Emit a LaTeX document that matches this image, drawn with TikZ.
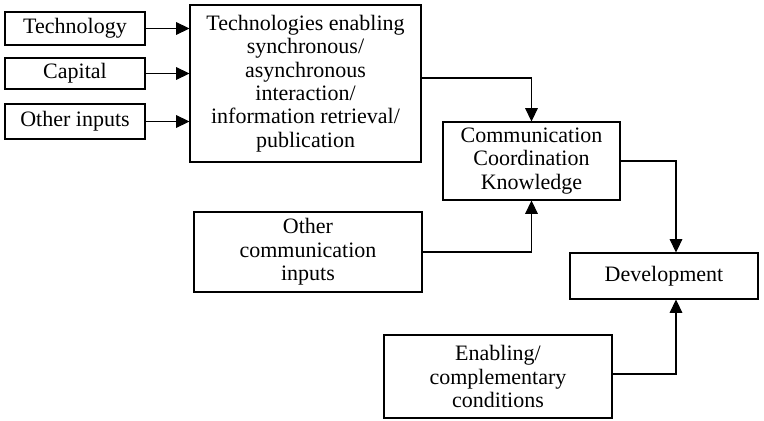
\documentclass[tikz,border=0pt]{standalone}
\usepackage{fontspec}
\setmainfont{Liberation Serif}
\usetikzlibrary{arrows.meta,calc}
\newlength\pxu
\setlength\pxu{0.75pt}
\begin{document}
\begin{tikzpicture}[x=0.75pt,y=-0.75pt,
  box/.style={draw,line width=0.8pt,align=center,inner sep=0pt,
    font=\fontsize{16.5}{17.6}\selectfont},
  arr/.style={line width=0.8pt,-{Triangle[length=10pt,width=9.5pt]}}]
\useasboundingbox (0,0) rectangle (764,421);
% input boxes
\node[box,minimum width=140\pxu,minimum height=33\pxu] (tech) at (75,28.5) {Technology};
\node[box,minimum width=140\pxu,minimum height=31\pxu] (cap) at (75,73.5) {Capital};
\node[box,minimum width=140\pxu,minimum height=35\pxu] (oth) at (75,121.5) {Other inputs};
% technologies
\node[box,minimum width=231\pxu,minimum height=157\pxu] (big) at (305.5,83.5)
  {Technologies enabling\\synchronous/\\asynchronous\\interaction/\\information retrieval/\\publication};
\node[box,minimum width=177\pxu,minimum height=78\pxu] (comm) at (531.5,161)
  {Communication\\Coordination\\Knowledge};
\node[box,minimum width=228\pxu,minimum height=80\pxu] (ocomm) at (308,252)
  {Other\\communication\\inputs};
\node[box,minimum width=188\pxu,minimum height=46\pxu] (dev) at (664,276) {Development};
\node[box,minimum width=228\pxu,minimum height=83\pxu] (enab) at (498,376.5)
  {Enabling/\\complementary\\conditions};
% connectors
\draw[arr] (tech.east) -- (big.west |- tech.east);
\draw[arr] (cap.east) -- (big.west |- cap.east);
\draw[arr] (oth.east) -- (big.west |- oth.east);
\coordinate (bigout) at ($(big.east)+(0,-5.5)$);
\draw[arr] (bigout) -| (comm.north);
\draw[arr] (ocomm.east) -| (comm.south);
\coordinate (devin) at ($(dev.north)+(12,0)$);
\coordinate (devbot) at ($(dev.south)+(12,0)$);
\draw[arr] (comm.east) -| (devin);
\coordinate (enabout) at ($(enab.east)+(0,-2.5)$);
\draw[arr] (enabout) -| (devbot);
\end{tikzpicture}
\end{document}
